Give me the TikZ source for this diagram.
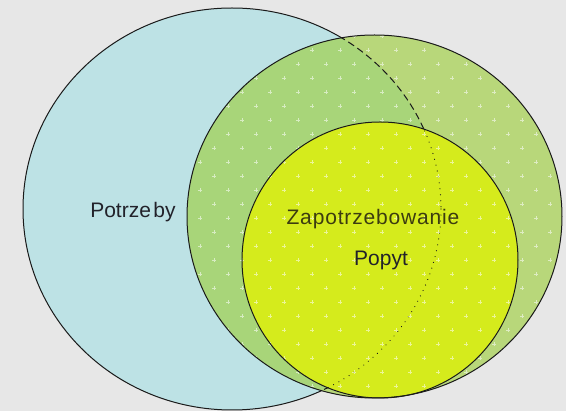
\documentclass[tikz,border=0pt]{standalone}
\usepackage{fontspec}
\setmainfont{Liberation Sans}
\definecolor{bg}{HTML}{E7E7E7}
\definecolor{needsblue}{HTML}{BDE2E5}
\definecolor{demandgreen}{HTML}{9ACD32}
\definecolor{popytyellow}{HTML}{D5EB1C}
\definecolor{edge}{HTML}{1A1A1A}
\definecolor{labelink}{HTML}{22222A}
\definecolor{olivetext}{HTML}{3C3C10}

\tikzset{
  outline/.style={draw=edge, line width=1pt},
  dashpart/.style={draw=edge, line width=1pt, dash pattern=on 7pt off 4pt},
  dotpart/.style={draw=edge, line width=1.2pt, line cap=round, dash pattern=on 0.01pt off 6pt},
  venntext/.style={font=\fontsize{21}{25}\selectfont, inner sep=0pt, anchor=base},
  sparkle/.style={draw=white, opacity=0.55, line width=0.8pt}
}

\begin{document}
\begin{tikzpicture}[x=1pt, y=-1pt]
  \useasboundingbox (0,0) rectangle (566,411);
  \fill[bg] (0,0) rectangle (566,411);

  % the three sets
  \def\needs{(232,209) ellipse [x radius=209, y radius=201]}
  \def\demand{(374.5,216.5) ellipse [x radius=187.5, y radius=181.5]}
  \def\popyt{(380,260) circle [radius=138]}

  % Potrzeby
  \fill[needsblue] \needs;
  \begin{scope}[even odd rule]
    \clip (0,0) rectangle (566,411) \demand;
    \draw[outline] \needs;
  \end{scope}

  % Zapotrzebowanie
  \fill[demandgreen, opacity=0.6] \demand;
  \begin{scope}
    \clip \demand;
    \draw[dashpart] \needs;
  \end{scope}

  % Popyt
  \fill[popytyellow] \popyt;
  \begin{scope}
    \clip \popyt;
    \draw[dotpart] \needs;
  \end{scope}

  % light screen texture on the green and yellow sets
  \begin{scope}
    \clip \demand;
    \foreach \j in {0,...,27} {
      \foreach \i in {0,...,14} {
        \pgfmathsetmacro{\px}{186 + 28*\i + 14*mod(\j,2)}
        \pgfmathsetmacro{\py}{36 + 14*\j}
        \draw[sparkle] (\px-1.6,\py) -- (\px+1.6,\py) (\px,\py-1.6) -- (\px,\py+1.6);
      }
    }
  \end{scope}

  \draw[outline] \demand;
  \draw[outline] \popyt;

  % labels
  \node[venntext, text=labelink] (needsLabel) at (133,218) {Potrze\hspace{0.12em}by};
  \node[venntext, text=olivetext] (demandLabel) at (373,225)
    {\addfontfeature{LetterSpace=4}Zapotrzebowanie};
  \node[venntext, text=labelink] (popytLabel) at (381,266) {Popyt};
\end{tikzpicture}
\end{document}
